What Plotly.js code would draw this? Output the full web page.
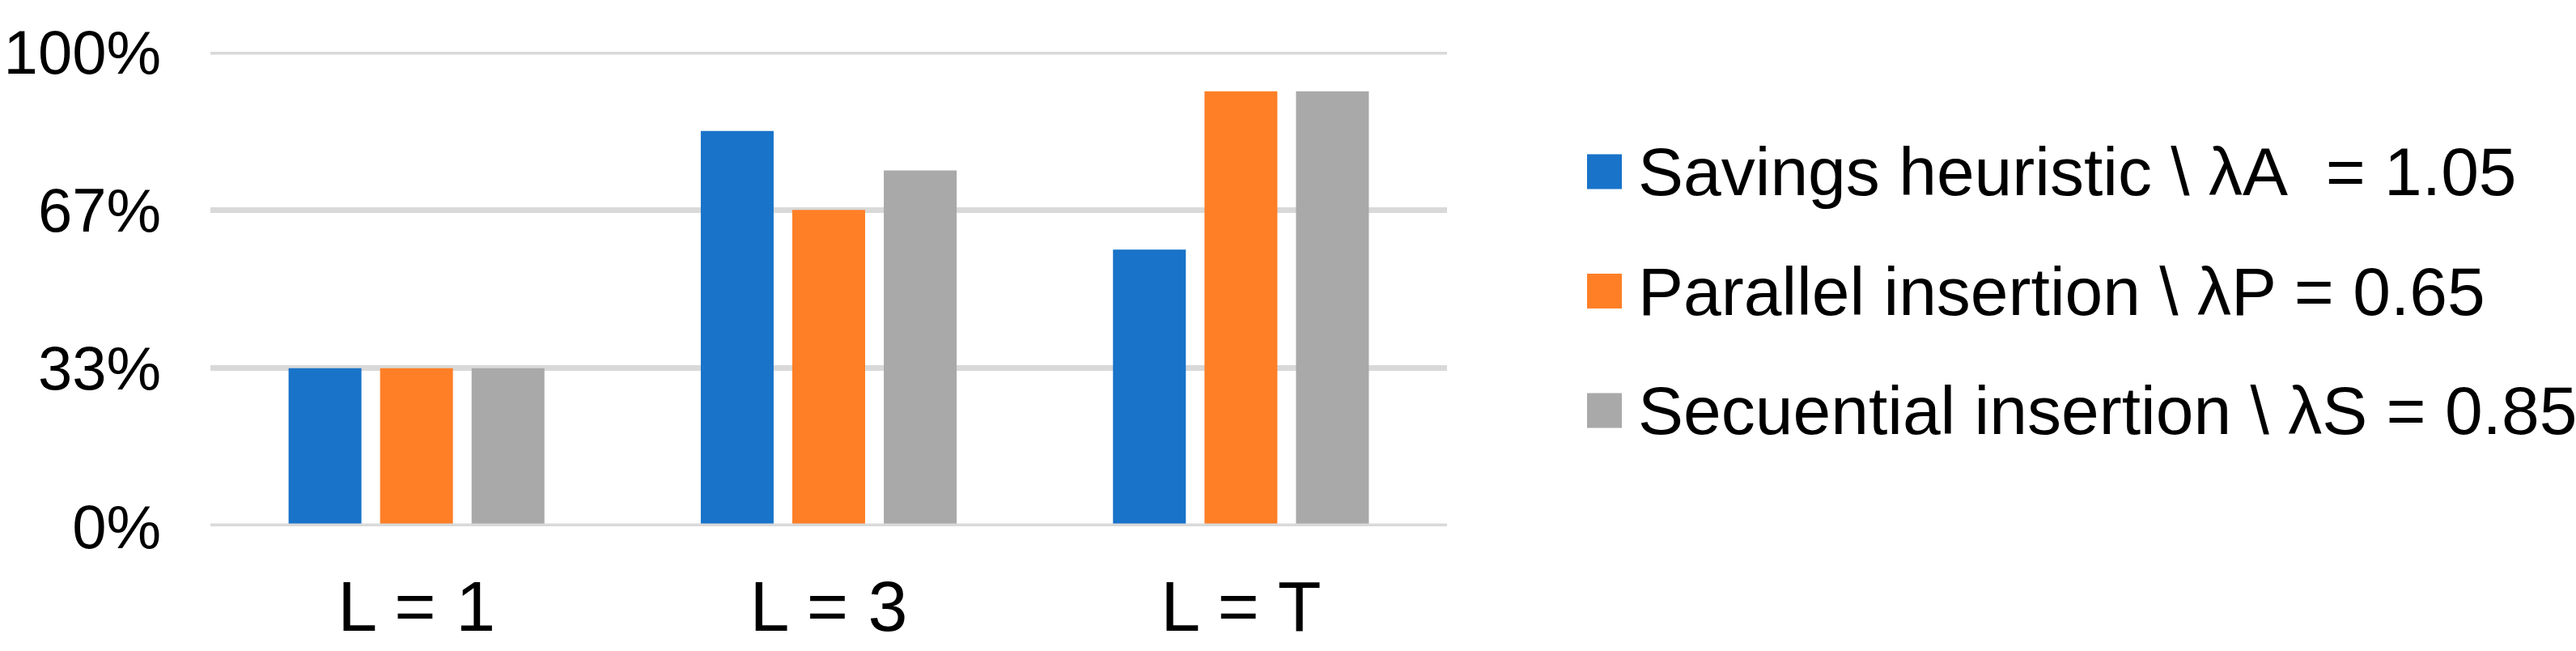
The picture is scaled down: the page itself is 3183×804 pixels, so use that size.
<!DOCTYPE html>
<html><head><meta charset="utf-8">
<script src="https://cdn.plot.ly/plotly-3.0.1.min.js"></script>
<style>html,body{margin:0;padding:0;background:#fff}</style>
</head><body><div id="chart" style="width:3183px;height:804px"></div>
<script>
const categories = ['L = 1', 'L = 3', 'L = T'];
const seriesNames = ['Savings heuristic \\ \u03bbA\u00a0 = 1.05', 'Parallel insertion \\ \u03bbP = 0.65', 'Secuential insertion \\ \u03bbS = 0.85'];
const savings = [0.3333, 0.8333, 0.5833];
const parallel = [0.3333, 0.6667, 0.9167];
const secuential = [0.3333, 0.75, 0.9167];
const yTickVals = [0, 1/3, 2/3, 1];
const yTickText = ['0%', '33%', '67%', '100%'];
const colors = ['#1873C9', '#FF7F27', '#A9A9A9'];

const W = 3183, H = 804;
const PL = 260, PR = 1788, PT = 64, PB = 650;
const pw = PR - PL, ph = PB - PT;
const px = x => (x - PL) / pw;
const py = y => (PB - y) / ph;
const FONT = 'Liberation Sans, Arial, sans-serif';

const values = [savings, parallel, secuential];
const traces = values.map((v, i) => ({
  type: 'bar', x: categories, y: v, name: seriesNames[i],
  marker: {color: colors[i]}, showlegend: false, hoverinfo: 'skip'
}));

const shapes = [{
  type: 'line', xref: 'paper', yref: 'y', x0: 0, x1: 1, y0: 0, y1: 0,
  line: {color: '#D9D9D9', width: 7}, layer: 'above'
}, {
  type: 'line', xref: 'paper', yref: 'y', x0: 0, x1: 1, y0: 1, y1: 1,
  line: {color: '#D9D9D9', width: 7}, layer: 'below'
}];
const annotations = [];
const rowY = [212, 359.5, 507];
seriesNames.forEach((n, i) => {
  shapes.push({type: 'rect', xref: 'paper', yref: 'paper',
    x0: px(1961), x1: px(2004), y0: py(rowY[i] + 21.5), y1: py(rowY[i] - 21.5),
    fillcolor: colors[i], line: {width: 0}, layer: 'above'});
  annotations.push({xref: 'paper', yref: 'paper', x: px(2022), y: py(rowY[i]),
    xanchor: 'left', yanchor: 'middle', showarrow: false, text: n,
    font: {family: FONT, size: 84, color: '#000'}});
});

const layout = {
  width: W, height: H,
  margin: {l: PL, r: W - PR, t: PT, b: H - PB, pad: 0},
  paper_bgcolor: '#fff', plot_bgcolor: '#fff',
  font: {family: FONT, color: '#000'},
  showlegend: false,
  barmode: 'group', bargap: 0.334, bargroupgap: 0.204,
  xaxis: {type: 'category', showgrid: false, zeroline: false, showline: false,
    ticks: '', tickfont: {family: FONT, size: 88, color: '#000'}, ticklabelstandoff: 40,
    fixedrange: true},
  yaxis: {range: [0, 1], tickvals: yTickVals, ticktext: yTickText, showgrid: true,
    gridcolor: '#D9D9D9', gridwidth: 7, zeroline: false, showline: false, ticks: '',
    tickfont: {family: FONT, size: 76, color: '#000'}, ticklabelstandoff: 60,
    fixedrange: true},
  shapes: shapes, annotations: annotations
};
Plotly.newPlot('chart', traces, layout, {staticPlot: true, displayModeBar: false});
</script></body></html>
